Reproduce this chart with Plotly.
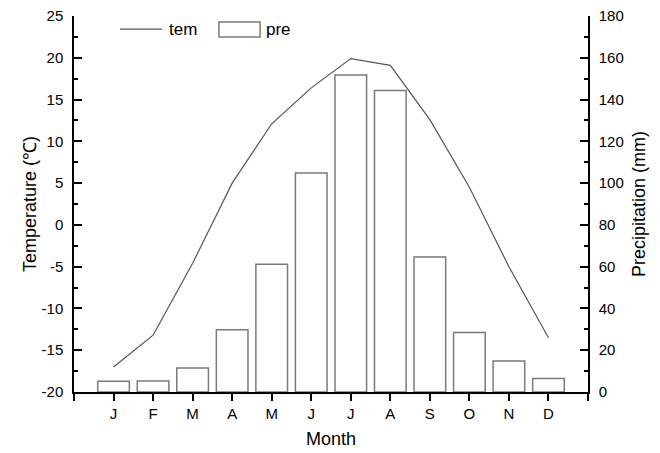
import plotly.graph_objects as go

months = ["J", "F", "M", "A", "M", "J", "J", "A", "S", "O", "N", "D"]
tem = [-17.0, -13.2, -4.6, 5.0, 12.1, 16.4, 19.9, 19.1, 12.6, 4.5, -5.0, -13.5]
pre = [5.1, 5.3, 11.5, 29.8, 61.2, 104.9, 151.8, 144.3, 64.6, 28.5, 14.8, 6.5]
tem_ticks = list(range(-20, 26, 5))
pre_ticks = list(range(0, 181, 20))

idx = list(range(len(months)))
FONT = "Liberation Sans, Arial, sans-serif"

fig = go.Figure()
fig.add_trace(go.Bar(x=idx, y=pre, yaxis="y2", name="pre", width=0.8,
                     marker=dict(color="white", line=dict(color="#7a7a7a", width=1.5)),
                     showlegend=False))
fig.add_trace(go.Scatter(x=idx, y=tem, mode="lines", name="tem",
                         line=dict(color="#555555", width=1.2), showlegend=False))

fig.update_layout(
    width=660, height=453,
    margin=dict(l=74, r=72, t=16, b=61, autoexpand=False),
    paper_bgcolor="white", plot_bgcolor="white",
    font=dict(family=FONT, size=15, color="black"),
    xaxis=dict(range=[-1, 12], tickvals=list(range(-1, 13)),
               ticktext=[""] + months + [""], automargin=False,
               ticks="outside", ticklen=7, tickwidth=1.5, tickcolor="black",
               showline=True, linecolor="black", linewidth=1.5,
               showgrid=False, zeroline=False,
               title=dict(text="Month", font=dict(size=18), standoff=12)),
    yaxis=dict(range=[-20, 25], tickvals=tem_ticks, ticktext=[str(v) for v in tem_ticks],
               automargin=False,
               ticks="inside", ticklen=8, tickwidth=1.5, tickcolor="black",
               minor=dict(tickvals=[-17.5 + 5 * i for i in range(9)], ticks="inside",
                          ticklen=4, tickwidth=1.5, tickcolor="black"),
               showline=True, linecolor="black", linewidth=1.5,
               showgrid=False, zeroline=False, ticklabelstandoff=6,
               title=dict(text="Temperature (℃)", font=dict(size=18), standoff=0)),
    yaxis2=dict(range=[0, 180], tickvals=pre_ticks, ticktext=[str(v) for v in pre_ticks],
                overlaying="y", side="right", automargin=False,
                ticks="inside", ticklen=8, tickwidth=1.5, tickcolor="black",
                minor=dict(tickvals=[10 + 20 * i for i in range(9)], ticks="inside",
                           ticklen=4, tickwidth=1.5, tickcolor="black"),
                showline=True, linecolor="black", linewidth=1.5,
                showgrid=False, zeroline=False, ticklabelstandoff=6,
                title=dict(text="Precipitation (mm)", font=dict(size=18), standoff=10)),
)

# legend drawn manually
fig.add_shape(type="line", xref="paper", yref="paper", x0=0.0895, x1=0.171, y0=0.965, y1=0.965,
              line=dict(color="#555555", width=1.2))
fig.add_annotation(xref="paper", yref="paper", x=0.181, y=0.965, text="tem", showarrow=False,
                   xanchor="left", yanchor="middle", font=dict(size=17))
fig.add_shape(type="rect", xref="paper", yref="paper", x0=0.282, x1=0.362, y0=0.944, y1=0.984,
              line=dict(color="#7a7a7a", width=1.5), fillcolor="white")
fig.add_annotation(xref="paper", yref="paper", x=0.370, y=0.965, text="pre", showarrow=False,
                   xanchor="left", yanchor="middle", font=dict(size=17))

fig.write_html("out.html")
